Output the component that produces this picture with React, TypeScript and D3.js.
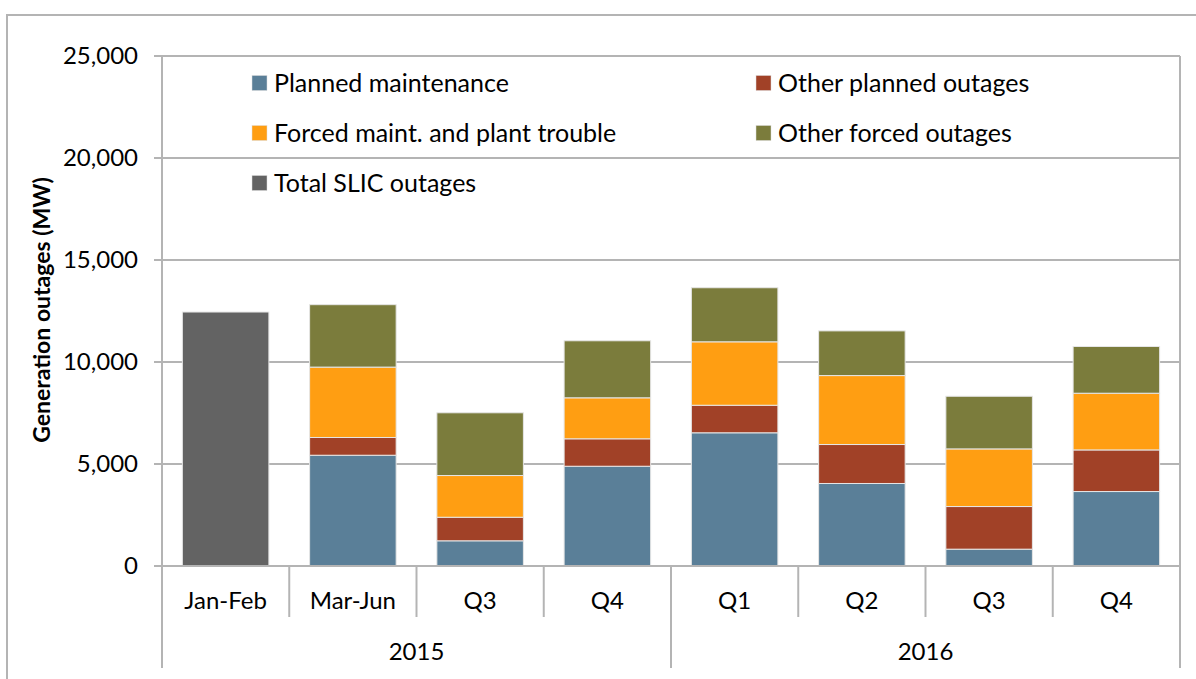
import { scaleBand, scaleLinear, select, stack, format } from "d3";
import { useEffect, useRef } from "react";

const categories = ["Jan-Feb", "Mar-Jun", "Q3", "Q4", "Q1", "Q2", "Q3", "Q4"];
const years = ["2015", "2016"];
const yearSpan = [4, 4];

const planned = [0, 5430, 1235, 4890, 6530, 4045, 825, 3650];
const otherPlanned = [0, 870, 1155, 1345, 1350, 1910, 2090, 2040];
const forced = [0, 3450, 2045, 2010, 3110, 3380, 2825, 2780];
const otherForced = [0, 3060, 3075, 2795, 2650, 2190, 2580, 2290];
const totalSlic = [12450, 0, 0, 0, 0, 0, 0, 0];

const yTicks = [0, 5000, 10000, 15000, 20000, 25000];

const seriesKeys = ["planned", "otherPlanned", "forced", "otherForced", "total"];
const seriesNames = [
  "Planned maintenance",
  "Other planned outages",
  "Forced maint. and plant trouble",
  "Other forced outages",
  "Total SLIC outages"
];
const seriesColors = ["#5a7f98", "#a14127", "#ff9e12", "#7b7c3c", "#636363"];

const W = 1196;
const H = 679;
const FONT = "Lato, 'Open Sans', sans-serif";
const GRID = "#b4b4b4";

export default function App() {
  const svgRef = useRef(null);

  useEffect(() => {
    const svg = select(svgRef.current);
    svg.selectAll("*").remove();

    const left = 162;
    const right = 1180;
    const top = 56;
    const bottom = 566;

    const x = scaleBand<number>()
      .domain(categories.map((_, i) => i))
      .range([left, right])
      .paddingInner(0.32)
      .paddingOuter(0.16);

    const y = scaleLinear().domain([0, 25000]).range([bottom, top]);

    const rows = categories.map((c, i) => ({
      idx: i,
      planned: planned[i],
      otherPlanned: otherPlanned[i],
      forced: forced[i],
      otherForced: otherForced[i],
      total: totalSlic[i]
    }));

    const stacked = stack<any>().keys(seriesKeys)(rows);

    // outer frame
    svg.append("rect")
      .attr("x", 7).attr("y", 15)
      .attr("width", W + 20).attr("height", H + 20)
      .attr("fill", "white")
      .attr("stroke", GRID).attr("stroke-width", 2);

    // gridlines + ticks
    svg.append("g")
      .selectAll("line")
      .data(yTicks)
      .join("line")
      .attr("x1", 154).attr("x2", right)
      .attr("y1", d => y(d)).attr("y2", d => y(d))
      .attr("stroke", GRID).attr("stroke-width", 2);

    svg.append("g")
      .selectAll("text")
      .data(yTicks)
      .join("text")
      .attr("x", 138)
      .attr("y", d => y(d))
      .attr("dy", "0.35em")
      .attr("text-anchor", "end")
      .attr("font-family", FONT)
      .attr("font-size", 24)
      .attr("fill", "#000")
      .text(d => format(",")(d));

    // bars
    svg.append("g")
      .selectAll("g")
      .data(stacked)
      .join("g")
      .attr("fill", (_, i) => seriesColors[i])
      .selectAll("rect")
      .data(d => d.filter(s => s[1] - s[0] > 0))
      .join("rect")
      .attr("x", d => x(d.data.idx)!)
      .attr("width", x.bandwidth())
      .attr("y", d => y(d[1]))
      .attr("height", d => y(d[0]) - y(d[1]))
      .attr("stroke", "#e6e6e6")
      .attr("stroke-width", 1);

    // axes lines
    const step = x.step();
    svg.append("line")
      .attr("x1", left).attr("x2", left)
      .attr("y1", top).attr("y2", 668)
      .attr("stroke", GRID).attr("stroke-width", 2);
    svg.append("line")
      .attr("x1", right).attr("x2", right)
      .attr("y1", top).attr("y2", 668)
      .attr("stroke", GRID).attr("stroke-width", 2);
    svg.append("line")
      .attr("x1", 154).attr("x2", right)
      .attr("y1", bottom).attr("y2", bottom)
      .attr("stroke", GRID).attr("stroke-width", 2);

    // category separators
    let acc = 0;
    const yearBounds = yearSpan.map(s => (acc += s));
    svg.append("g")
      .selectAll("line")
      .data(categories.slice(1).map((_, i) => i + 1))
      .join("line")
      .attr("x1", d => left + d * step).attr("x2", d => left + d * step)
      .attr("y1", bottom)
      .attr("y2", d => (yearBounds.includes(d) ? 668 : 617))
      .attr("stroke", GRID).attr("stroke-width", 2);

    svg.append("g")
      .selectAll("text")
      .data(categories)
      .join("text")
      .attr("x", (_, i) => x(i)! + x.bandwidth() / 2)
      .attr("y", 601)
      .attr("dy", "0.35em")
      .attr("text-anchor", "middle")
      .attr("font-family", FONT)
      .attr("font-size", 24)
      .text(d => d);

    let start = 0;
    svg.append("g")
      .selectAll("text")
      .data(years.map((yr, i) => {
        const s = start;
        start += yearSpan[i];
        return { yr, s, e: start };
      }))
      .join("text")
      .attr("x", d => left + ((d.s + d.e) / 2) * step)
      .attr("y", 652)
      .attr("dy", "0.35em")
      .attr("text-anchor", "middle")
      .attr("font-family", FONT)
      .attr("font-size", 24)
      .text(d => d.yr);

    // y title
    svg.append("text")
      .attr("transform", "translate(42,310) rotate(-90)")
      .attr("dy", "0.35em")
      .attr("text-anchor", "middle")
      .attr("font-family", FONT)
      .attr("font-weight", "bold")
      .attr("font-size", 23)
      .text("Generation outages (MW)");

    // legend
    const legendPos = [
      [252, 83], [756, 83],
      [252, 133], [756, 133],
      [252, 183]
    ];
    const lg = svg.append("g")
      .selectAll("g")
      .data(seriesNames)
      .join("g")
      .attr("transform", (_, i) => `translate(${legendPos[i][0]},${legendPos[i][1]})`);
    lg.append("rect")
      .attr("x", 0).attr("y", -7.5)
      .attr("width", 15).attr("height", 15)
      .attr("fill", (_, i) => seriesColors[i])
      .attr("stroke", "#ddd").attr("stroke-width", 0.5);
    lg.append("text")
      .attr("x", 22)
      .attr("dy", "0.35em")
      .attr("font-family", FONT)
      .attr("font-size", 25)
      .text(d => d);
  }, []);

  return (
    <svg
      ref={svgRef}
      width={W}
      height={H}
      style={{ position: "absolute", left: 0, top: 0, background: "white" }}
    ></svg>
  );
}
